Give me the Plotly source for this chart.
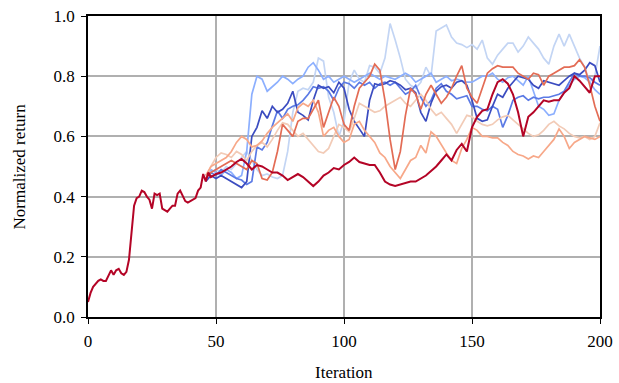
import plotly.graph_objects as go

# ---- data ----
main_x = list(range(0, 51)) + list(range(52, 201, 2))
main_y = [0.05, 0.08, 0.10, 0.11, 0.12, 0.125, 0.12, 0.12, 0.14, 0.155,
          0.14, 0.155, 0.16, 0.145, 0.14, 0.15, 0.19, 0.28, 0.37, 0.395,
          0.40, 0.42, 0.415, 0.40, 0.39, 0.36, 0.41, 0.405, 0.41, 0.36,
          0.355, 0.35, 0.36, 0.37, 0.37, 0.41, 0.42, 0.40, 0.385, 0.38,
          0.385, 0.39, 0.395, 0.42, 0.43, 0.475, 0.45, 0.48, 0.465, 0.47,
          0.475,
          0.48, 0.49, 0.50, 0.515, 0.525, 0.51, 0.49, 0.505, 0.50, 0.49,
          0.48, 0.48, 0.47, 0.455, 0.465, 0.475, 0.465, 0.45, 0.435, 0.45,
          0.47, 0.48, 0.495, 0.49, 0.505, 0.515, 0.53, 0.515, 0.51, 0.505,
          0.505, 0.48, 0.45, 0.44, 0.435, 0.44, 0.445, 0.45, 0.45, 0.46,
          0.47, 0.485, 0.50, 0.52, 0.54, 0.52, 0.555, 0.575, 0.55, 0.63,
          0.665, 0.685, 0.69, 0.74, 0.78, 0.79, 0.775, 0.74, 0.68, 0.60,
          0.665, 0.68, 0.70, 0.72, 0.715, 0.72, 0.72, 0.745, 0.76, 0.80,
          0.785, 0.765, 0.745, 0.80, 0.80]

branch_x = list(range(46, 201, 2))

run_a = [0.45, 0.47, 0.46, 0.47, 0.46, 0.45, 0.44, 0.43, 0.45, 0.60,
         0.63, 0.685, 0.66, 0.70, 0.68, 0.69, 0.71, 0.75, 0.68, 0.67,
         0.655, 0.72, 0.77, 0.76, 0.765, 0.745, 0.78, 0.76, 0.69, 0.65,
         0.625, 0.60, 0.72, 0.775, 0.77, 0.775, 0.785, 0.78, 0.77, 0.755,
         0.76, 0.745, 0.68, 0.65, 0.71, 0.75, 0.765, 0.77, 0.76, 0.78,
         0.785, 0.77, 0.72, 0.66, 0.65, 0.655, 0.70, 0.74, 0.73, 0.76,
         0.78, 0.80, 0.795, 0.79, 0.77, 0.76, 0.785, 0.78, 0.775, 0.77,
         0.785, 0.80, 0.81, 0.805, 0.82, 0.845, 0.835, 0.78]

run_b = [0.46, 0.48, 0.47, 0.49, 0.48, 0.47, 0.46, 0.455, 0.44, 0.45,
         0.565, 0.555, 0.58, 0.635, 0.685, 0.66, 0.69, 0.70, 0.705, 0.72,
         0.74, 0.765, 0.76, 0.765, 0.75, 0.72, 0.76, 0.78, 0.775, 0.76,
         0.78, 0.77, 0.78, 0.76, 0.775, 0.78, 0.77, 0.78, 0.76, 0.74,
         0.75, 0.77, 0.73, 0.70, 0.72, 0.76, 0.775, 0.75, 0.74, 0.725,
         0.73, 0.735, 0.70, 0.70, 0.69, 0.685, 0.70, 0.69, 0.63, 0.67,
         0.72, 0.73, 0.735, 0.72, 0.73, 0.725, 0.73, 0.73, 0.735, 0.74,
         0.75, 0.78, 0.81, 0.80, 0.80, 0.795, 0.78, 0.77]

run_c = [0.47, 0.49, 0.48, 0.47, 0.49, 0.48, 0.46, 0.47, 0.55, 0.74,
         0.80, 0.79, 0.75, 0.765, 0.78, 0.80, 0.79, 0.775, 0.79, 0.80,
         0.83, 0.845, 0.82, 0.79, 0.80, 0.78, 0.79, 0.80, 0.79, 0.78,
         0.79, 0.80, 0.81, 0.80, 0.79, 0.80, 0.795, 0.79, 0.80, 0.81,
         0.80, 0.78, 0.79, 0.80, 0.81, 0.78, 0.79, 0.80, 0.785, 0.79,
         0.785, 0.78, 0.78, 0.79, 0.80, 0.80, 0.81, 0.79, 0.78, 0.795,
         0.80, 0.785, 0.77, 0.80, 0.75, 0.70, 0.69, 0.67, 0.675, 0.72,
         0.745, 0.77, 0.79, 0.80, 0.795, 0.78, 0.755, 0.74]

run_d = [0.47, 0.48, 0.49, 0.48, 0.50, 0.49, 0.51, 0.53, 0.55, 0.52,
         0.49, 0.47, 0.475, 0.465, 0.46, 0.47, 0.55, 0.68, 0.75, 0.76,
         0.755, 0.78, 0.86, 0.85, 0.73, 0.68, 0.60, 0.65, 0.78, 0.82,
         0.79, 0.78, 0.835, 0.83, 0.81, 0.86, 0.975, 0.92, 0.86, 0.79,
         0.77, 0.76, 0.78, 0.83, 0.80, 0.95, 0.96, 0.97, 0.93, 0.91,
         0.905, 0.895, 0.905, 0.89, 0.92, 0.86, 0.84, 0.87, 0.89, 0.91,
         0.91, 0.88, 0.90, 0.93, 0.91, 0.89, 0.86, 0.84, 0.90, 0.94,
         0.90, 0.94, 0.90, 0.86, 0.83, 0.78, 0.80, 0.90]

run_e = [0.46, 0.50, 0.53, 0.545, 0.54, 0.53, 0.55, 0.54, 0.52, 0.55,
         0.57, 0.58, 0.565, 0.59, 0.62, 0.645, 0.64, 0.62, 0.60, 0.61,
         0.59, 0.57, 0.55, 0.545, 0.56, 0.60, 0.64, 0.63, 0.615, 0.66,
         0.71, 0.70, 0.69, 0.68, 0.685, 0.70, 0.71, 0.72, 0.73, 0.71,
         0.70, 0.72, 0.74, 0.72, 0.69, 0.67, 0.68, 0.66, 0.64, 0.61,
         0.64, 0.67, 0.665, 0.65, 0.64, 0.635, 0.64, 0.655, 0.665, 0.67,
         0.655, 0.64, 0.625, 0.61, 0.60, 0.605, 0.62, 0.64, 0.65, 0.635,
         0.625, 0.61, 0.60, 0.595, 0.60, 0.59, 0.60, 0.645]

run_f = [0.47, 0.50, 0.51, 0.52, 0.53, 0.55, 0.58, 0.60, 0.59, 0.565,
         0.57, 0.585, 0.61, 0.63, 0.645, 0.66, 0.675, 0.65, 0.695, 0.71,
         0.70, 0.72, 0.68, 0.60, 0.62, 0.63, 0.60, 0.58, 0.59, 0.64,
         0.65, 0.62, 0.60, 0.58, 0.545, 0.53, 0.50, 0.48, 0.46, 0.49,
         0.52, 0.53, 0.57, 0.545, 0.615, 0.60, 0.57, 0.545, 0.52, 0.51,
         0.56, 0.59, 0.63, 0.62, 0.60, 0.60, 0.595, 0.595, 0.58, 0.57,
         0.55, 0.54, 0.535, 0.525, 0.535, 0.53, 0.55, 0.57, 0.59, 0.625,
         0.60, 0.56, 0.58, 0.59, 0.60, 0.595, 0.59, 0.60]

run_g = [0.46, 0.48, 0.49, 0.50, 0.51, 0.52, 0.51, 0.50, 0.49, 0.52,
         0.51, 0.46, 0.455, 0.48, 0.55, 0.64, 0.62, 0.60, 0.65, 0.66,
         0.66, 0.69, 0.72, 0.63, 0.68, 0.73, 0.70, 0.64, 0.62, 0.70,
         0.76, 0.78, 0.80, 0.84, 0.82, 0.72, 0.59, 0.49, 0.55, 0.67,
         0.76, 0.74, 0.69, 0.74, 0.77, 0.74, 0.71, 0.73, 0.76, 0.80,
         0.835, 0.76, 0.73, 0.71, 0.76, 0.81, 0.825, 0.835, 0.83, 0.83,
         0.83, 0.81, 0.80, 0.79, 0.81, 0.805, 0.77, 0.80, 0.81, 0.82,
         0.83, 0.83, 0.835, 0.855, 0.83, 0.77, 0.70, 0.65]

branches = [run_d, run_c, run_b, run_a, run_e, run_f, run_g]
branch_colors = ["#c3d5f4", "#8caffe", "#5b7ae5", "#3b4cc0",
                 "#f2cbb7", "#f7a889", "#e36c55"]
main_color = "#b40426"

x_ticks = [0, 50, 100, 150, 200]
y_ticks = [0.0, 0.2, 0.4, 0.6, 0.8, 1.0]
x_title = "Iteration"
y_title = "Normalized return"

SERIF = "Liberation Serif"

fig = go.Figure()
for ys, col in zip(branches, branch_colors):
    fig.add_trace(go.Scatter(x=branch_x, y=ys, mode="lines",
                             line=dict(color=col, width=1.7),
                             showlegend=False, hoverinfo="skip"))
fig.add_trace(go.Scatter(x=main_x, y=main_y, mode="lines",
                         line=dict(color=main_color, width=2),
                         showlegend=False, hoverinfo="skip"))

axis_common = dict(showgrid=True, gridcolor="#b0b0b0", gridwidth=1.5,
                   showline=True, linecolor="black", linewidth=1.5,
                   mirror=True, ticks="outside", ticklen=5, tickwidth=1.3,
                   tickcolor="black", zeroline=False, automargin=False,
                   ticklabelstandoff=3,
                   tickfont=dict(family=SERIF, size=17, color="black"))

fig.update_xaxes(range=[0, 200], tickvals=x_ticks, **axis_common)
fig.update_yaxes(range=[0, 1], tickvals=y_ticks, tickformat=".1f", **axis_common)

fig.add_annotation(text=x_title, xref="paper", yref="paper", x=0.5, y=-0.183,
                   xanchor="center", yanchor="middle", showarrow=False,
                   font=dict(family=SERIF, size=17, color="black"))
fig.add_annotation(text=y_title, xref="paper", yref="paper", x=-0.133, y=0.5,
                   xanchor="center", yanchor="middle", textangle=-90,
                   showarrow=False,
                   font=dict(family=SERIF, size=17, color="black"))

fig.update_layout(width=619, height=383,
                  margin=dict(l=88, r=19, t=16, b=66),
                  paper_bgcolor="white", plot_bgcolor="white",
                  font=dict(family=SERIF, color="black"))

fig.write_html("out.html", config={"displayModeBar": False},
               post_script="document.body.style.margin='0';document.body.style.overflow='hidden';")
